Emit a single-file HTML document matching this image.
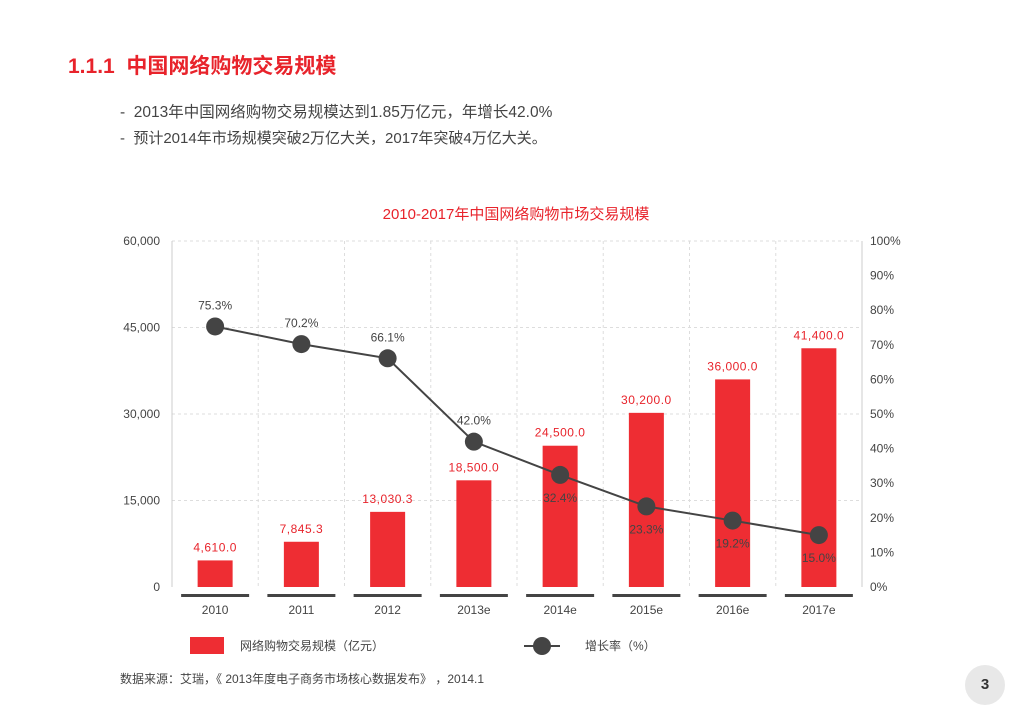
<!DOCTYPE html>
<html><head><meta charset="utf-8"><style>
body{margin:0;width:1024px;height:724px;background:#fff;font-family:"Liberation Sans","Noto Sans CJK SC",sans-serif;overflow:hidden;position:relative}
.t{position:absolute;white-space:nowrap}
</style></head><body>
<div class="t" style="left:68px;top:50px;font-size:21px;font-weight:bold;color:#e8232b">1.1.1&nbsp; 中国网络购物交易规模</div>
<div class="t" style="left:120px;top:100px;font-size:15.5px;color:#444">-&nbsp; 2013年中国网络购物交易规模达到1.85万亿元，年增长42.0%</div>
<div class="t" style="left:120px;top:127px;font-size:15px;color:#444">-&nbsp; 预计2014年市场规模突破2万亿大关，2017年突破4万亿大关。</div>
<svg id="chart" width="1024" height="724" style="position:absolute;left:0;top:0" font-family="Liberation Sans, Noto Sans CJK SC, sans-serif"></svg>
<div class="t" style="left:120px;top:670px;font-size:12px;color:#444">数据来源：艾瑞，《 2013年度电子商务市场核心数据发布》 ，2014.1</div>
<div style="position:absolute;left:965px;top:665px;width:40px;height:40px;border-radius:50%;background:#e8e8e8;text-align:center;line-height:40px;font-weight:bold;font-size:15px;color:#333">3</div>
<script>
const categories=["2010","2011","2012","2013e","2014e","2015e","2016e","2017e"];
const volumes=[4610.0,7845.3,13030.3,18500.0,24500.0,30200.0,36000.0,41400.0];
const growth=[75.3,70.2,66.1,42.0,32.4,23.3,19.2,15.0];
const leftTicks=[0,15000,30000,45000,60000];
const rightTicks=[0,10,20,30,40,50,60,70,80,90,100];
const svg=document.getElementById('chart');const NS='http://www.w3.org/2000/svg';
function mk(t,a,p){const e=document.createElementNS(NS,t);for(const k in a)e.setAttribute(k,a[k]);(p||svg).appendChild(e);return e;}
const X0=172,X1=862,Y0=587,Y1=241;const step=(X1-X0)/categories.length;
const xc=i=>X0+step*(i+0.5);const yl=v=>Y0-(v/60000)*(Y0-Y1);const yr=v=>Y0-(v/100)*(Y0-Y1);
const fmt=v=>v.toLocaleString('en-US',{minimumFractionDigits:1,maximumFractionDigits:1});
let e=mk('text',{x:516,y:219,'text-anchor':'middle','font-size':15,fill:'#e8232b'});e.textContent='2010-2017年中国网络购物市场交易规模';

leftTicks.forEach(v=>{const y=yl(v);
if(v>0){e=mk('line',{x1:X0,x2:X1,y1:y,y2:y,stroke:'#ddd','stroke-dasharray':'3,3'});}
e=mk('text',{x:160,y:y+4,'text-anchor':'end','font-size':12,fill:'#444'});e.textContent=v.toLocaleString('en-US');
});
rightTicks.forEach(v=>{e=mk('text',{x:870,y:yr(v)+4,'font-size':12,fill:'#444'});e.textContent=v+'%';
});
for(let i=1;i<categories.length;i++){e=mk('line',{x1:X0+step*i,x2:X0+step*i,y1:Y1,y2:Y0,stroke:'#ddd','stroke-dasharray':'3,3'});}
e=mk('line',{x1:X0,x2:X0,y1:Y1,y2:Y0,stroke:'#ccc'});
e=mk('line',{x1:X1,x2:X1,y1:Y1,y2:Y0,stroke:'#ccc'});
categories.forEach((c,i)=>{const x=xc(i);
e=mk('rect',{x:x-17.5,y:yl(volumes[i]),width:35,height:Y0-yl(volumes[i]),fill:'#ee2d33'});
e=mk('text',{x:x,y:yl(volumes[i])-9,'text-anchor':'middle','font-size':12,fill:'#e8232b','letter-spacing':'0.5'});e.textContent=fmt(volumes[i]);

e=mk('rect',{x:x-34,y:594,width:68,height:3,fill:'#444'});
e=mk('text',{x:x,y:614,'text-anchor':'middle','font-size':12,fill:'#444'});e.textContent=c;
});
e=mk('polyline',{points:growth.map((g,i)=>xc(i)+','+yr(g)).join(' '),fill:'none',stroke:'#444','stroke-width':2});

growth.forEach((g,i)=>{const x=xc(i),y=yr(g);
e=mk('circle',{cx:x,cy:y,r:9,fill:'#444'});
e=mk('text',{x:x,y:i<4?y-17:y+27,'text-anchor':'middle','font-size':12,fill:'#444'});e.textContent=g.toFixed(1)+'%';
});
e=mk('rect',{x:190,y:637,width:34,height:17,fill:'#ee2d33'});
e=mk('text',{x:240,y:650,'font-size':12,fill:'#444'});e.textContent='网络购物交易规模（亿元）';
e=mk('line',{x1:524,x2:560,y1:646,y2:646,stroke:'#444','stroke-width':2});
e=mk('circle',{cx:542,cy:646,r:9,fill:'#444'});
e=mk('text',{x:585,y:650,'font-size':12,fill:'#444'});e.textContent='增长率（%）';
</script>
</body></html>
